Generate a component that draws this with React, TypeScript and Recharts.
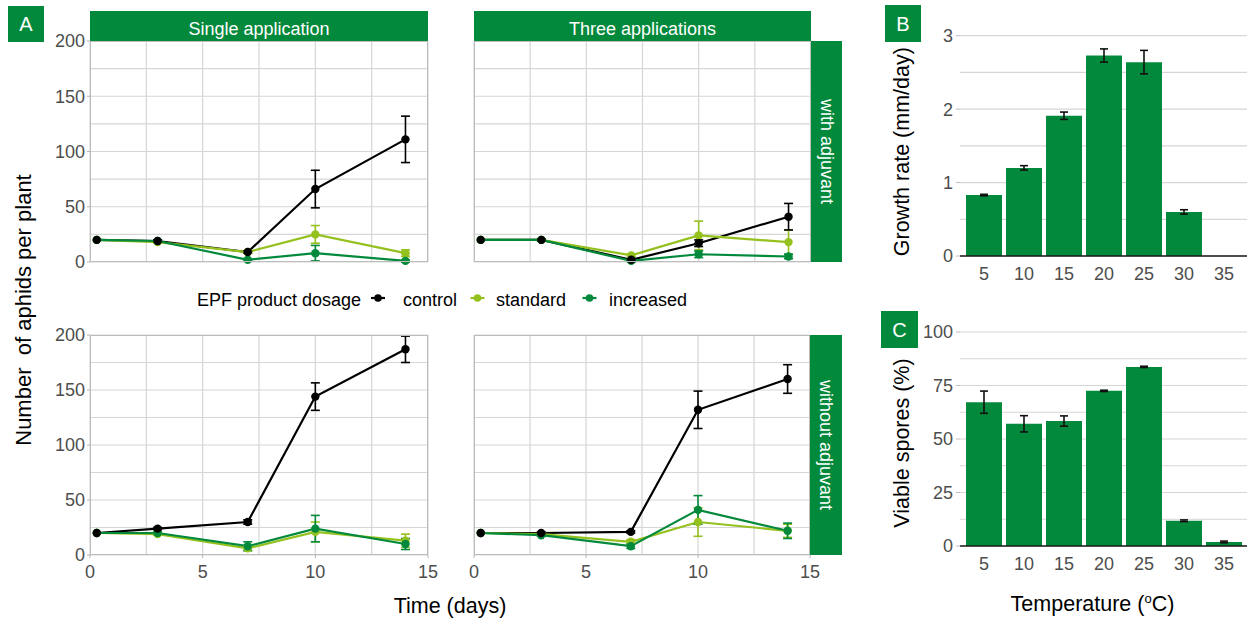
import React from 'react';
import { ComposedChart, BarChart, Bar, Line, XAxis, YAxis, CartesianGrid, ErrorBar } from 'recharts';

const FONT = '"Liberation Sans", Arial, Helvetica, sans-serif';
const GREEN = '#02893b';
const LIGHT = '#95c11f';
const BLACK = '#000000';
const GRID = '#d6d6d6';
const TICK = '#4d4d4d';

// ---- Panel A data ----
const days = [0.3, 3, 7, 10, 14];
const dayTicks = [0, 5, 10, 15];
const dayGrid = [0, 2.5, 5, 7.5, 10, 12.5, 15];
const aphidTicks = [0, 50, 100, 150, 200];
const aphidGrid = [0, 25, 50, 75, 100, 125, 150, 175, 200];

// Single application, with adjuvant
const singleWithControl = [20, 19, 9, 66, 111];
const singleWithControlSe = [0, 1, 1, 17, 21];
const singleWithStandard = [20, 18, 9, 25, 8];
const singleWithStandardSe = [0, 1, 1, 8, 3];
const singleWithIncreased = [20, 19, 2, 8, 1];
const singleWithIncreasedSe = [0, 1, 1, 7, 1];

// Three applications, with adjuvant
const threeWithControl = [20, 20, 2, 17, 41];
const threeWithControlSe = [0, 1, 1, 3, 12];
const threeWithStandard = [20, 20, 6, 24, 18];
const threeWithStandardSe = [0, 1, 1, 13, 11];
const threeWithIncreased = [20, 20, 1, 7, 5];
const threeWithIncreasedSe = [0, 1, 1, 3, 2];

// Single application, without adjuvant
const singleWithoutControl = [20, 24, 30, 144, 187];
const singleWithoutControlSe = [0, 1, 2, 12.5, 12];
const singleWithoutStandard = [20, 19, 6, 21, 13];
const singleWithoutStandardSe = [0, 1, 2, 9, 6];
const singleWithoutIncreased = [20, 20, 8, 24, 10];
const singleWithoutIncreasedSe = [0, 1, 4, 12, 5];

// Three applications, without adjuvant
const threeWithoutControl = [20, 20, 21, 132, 160];
const threeWithoutControlSe = [0, 1, 1, 17, 13];
const threeWithoutStandard = [20, 19, 12, 30, 22];
const threeWithoutStandardSe = [0, 1, 2, 13, 6];
const threeWithoutIncreased = [20, 18, 8, 41, 22];
const threeWithoutIncreasedSe = [0, 1, 2, 13, 7];

// ---- Panels B & C data ----
const temps = ['5', '10', '15', '20', '25', '30', '35'];
const growthRate = [0.83, 1.2, 1.91, 2.73, 2.64, 0.6, 0];
const growthRateSe = [0.01, 0.03, 0.05, 0.09, 0.16, 0.03, 0];
const growthTicks = [0, 1, 2, 3];
const growthGrid = [0, 0.5, 1, 1.5, 2, 2.5, 3];
const viableSpores = [67.2, 57.1, 58.4, 72.5, 83.7, 11.8, 1.9];
const viableSporesSe = [5.2, 3.8, 2.4, 0.3, 0.3, 0.4, 0.4];
const sporeTicks = [0, 25, 50, 75, 100];
const sporeGrid = [0, 12.5, 25, 37.5, 50, 62.5, 75, 87.5, 100];

function buildRows(c: number[], cs: number[], s: number[], ss: number[], i: number[], is: number[]) {
  return days.map((d, k) => ({
    day: d,
    control: c[k], controlSe: cs[k],
    standard: s[k], standardSe: ss[k],
    increased: i[k], increasedSe: is[k],
  }));
}

const rowsSingleWith = buildRows(singleWithControl, singleWithControlSe, singleWithStandard, singleWithStandardSe, singleWithIncreased, singleWithIncreasedSe);
const rowsThreeWith = buildRows(threeWithControl, threeWithControlSe, threeWithStandard, threeWithStandardSe, threeWithIncreased, threeWithIncreasedSe);
const rowsSingleWithout = buildRows(singleWithoutControl, singleWithoutControlSe, singleWithoutStandard, singleWithoutStandardSe, singleWithoutIncreased, singleWithoutIncreasedSe);
const rowsThreeWithout = buildRows(threeWithoutControl, threeWithoutControlSe, threeWithoutStandard, threeWithoutStandardSe, threeWithoutIncreased, threeWithoutIncreasedSe);

const growthRows = temps.map((t, k) => ({ temp: t, value: growthRate[k], se: growthRateSe[k] }));
const sporeRows = temps.map((t, k) => ({ temp: t, value: viableSpores[k], se: viableSporesSe[k] }));

const tickStyle = { fontSize: 18, fill: TICK, fontFamily: FONT };

function Facet({ data, left, top, w, h, showY, showX }: any) {
  const yW = showY ? 60 : 0;
  const xH = showX ? 40 : 0;
  const pad = 10;
  const ml = showY ? 0 : 20;
  const mb = showX ? 0 : 15;
  const dotStyle = (c: string) => ({ r: 4.2, fill: c, stroke: c, strokeWidth: 0 });
  return (
    <div style={{ position: 'absolute', left: left - yW - ml, top: top - pad }}>
      <ComposedChart width={ml + yW + w + pad} height={pad + h + xH + mb} data={data}
        margin={{ top: pad, right: pad, bottom: mb, left: ml }}>
        <CartesianGrid stroke={GRID} strokeWidth={1.2} horizontalValues={aphidGrid} verticalValues={dayGrid} />
        <XAxis type="number" dataKey="day" domain={[0, 15]} ticks={dayTicks} interval={0} hide={!showX} height={xH}
          axisLine={false} tickLine={{ stroke: '#b3b3b3' }} tickSize={3} tickMargin={7} tick={tickStyle} />
        <YAxis type="number" domain={[0, 200]} ticks={aphidTicks} interval={0} hide={!showY} width={yW}
          axisLine={false} tickLine={{ stroke: '#b3b3b3' }} tickSize={3} tickMargin={2} tick={tickStyle} />
        <Line type="linear" dataKey="control" stroke={BLACK} strokeWidth={2.2} dot={false} activeDot={false} isAnimationActive={false} />
        <Line type="linear" dataKey="standard" stroke={LIGHT} strokeWidth={2.2} dot={false} activeDot={false} isAnimationActive={false} />
        <Line type="linear" dataKey="increased" stroke={GREEN} strokeWidth={2.2} dot={false} activeDot={false} isAnimationActive={false} />
        <Line type="linear" dataKey="standard" stroke="none" dot={dotStyle(LIGHT)} activeDot={false} isAnimationActive={false}>
          <ErrorBar dataKey="standardSe" width={4.5} stroke={LIGHT} strokeWidth={1.6} direction="y" />
        </Line>
        <Line type="linear" dataKey="increased" stroke="none" dot={dotStyle(GREEN)} activeDot={false} isAnimationActive={false}>
          <ErrorBar dataKey="increasedSe" width={4.5} stroke={GREEN} strokeWidth={1.6} direction="y" />
        </Line>
        <Line type="linear" dataKey="control" stroke="none" dot={dotStyle(BLACK)} activeDot={false} isAnimationActive={false}>
          <ErrorBar dataKey="controlSe" width={4.5} stroke={BLACK} strokeWidth={1.6} direction="y" />
        </Line>
      </ComposedChart>
    </div>
  );
}

function BarPanel({ data, left, top, h, domain, ticks, grid }: any) {
  const yW = 50;
  const xH = 40;
  const w = 288;
  const pad = 10;
  return (
    <div style={{ position: 'absolute', left: left - yW, top: top - pad }}>
      <BarChart width={yW + w} height={pad + h + xH} data={data} margin={{ top: pad, right: 0, bottom: 0, left: 0 }}
        barCategoryGap="5%">
        <CartesianGrid stroke={GRID} strokeWidth={1.2} vertical={false} horizontalValues={grid} />
        <XAxis dataKey="temp" type="category" padding={{ left: 4, right: 4 }} height={xH} interval={0}
          axisLine={{ stroke: '#1a1a1a', strokeWidth: 1.3 }} tickLine={false} tickSize={0} tickMargin={11} tick={tickStyle} />
        <YAxis type="number" domain={domain} ticks={ticks} interval={0} width={yW} axisLine={false}
          tickLine={{ stroke: '#bdbdbd' }} tickSize={4} tickMargin={3} tick={tickStyle} />
        <Bar dataKey="value" fill={GREEN} isAnimationActive={false}>
          <ErrorBar dataKey="se" width={4} stroke="#111111" strokeWidth={1.6} direction="y" />
        </Bar>
      </BarChart>
    </div>
  );
}

function Overlay() {
  const legendItems = [
    { label: 'control', color: BLACK, cx: 378, tx: 403 },
    { label: 'standard', color: LIGHT, cx: 477.5, tx: 496 },
    { label: 'increased', color: GREEN, cx: 589.5, tx: 609 },
  ];
  const panels = [
    { x: 90, y: 41, w: 338, h: 221 },
    { x: 474, y: 41, w: 337, h: 221 },
    { x: 90, y: 335, w: 338, h: 220 },
    { x: 474, y: 335, w: 336, h: 220 },
  ];
  return (
    <svg width={1247} height={620} style={{ position: 'absolute', left: 0, top: 0, pointerEvents: 'none', fontFamily: FONT }}>
      {panels.map((p, i) => (
        <rect key={i} x={p.x + 0.5} y={p.y + 0.5} width={p.w - 1} height={p.h - 1} fill="none" stroke="#bdbdbd" strokeWidth={1} />
      ))}
      {/* strips */}
      <rect x={90} y={11} width={338} height={30} fill={GREEN} />
      <text x={259} y={35} textAnchor="middle" fontSize={18} fill="#ffffff">Single application</text>
      <rect x={474} y={11} width={337} height={30} fill={GREEN} />
      <text x={642.5} y={35} textAnchor="middle" fontSize={18} fill="#ffffff">Three applications</text>
      <rect x={811} y={41} width={31} height={221} fill={GREEN} />
      <text transform="translate(826.5,151.5) rotate(90)" textAnchor="middle" dominantBaseline="central" fontSize={18} fill="#ffffff">with adjuvant</text>
      <rect x={810} y={335} width={32} height={220} fill={GREEN} />
      <text transform="translate(826,445) rotate(90)" textAnchor="middle" dominantBaseline="central" fontSize={18} fill="#ffffff">without adjuvant</text>

      {/* panel letters */}
      <rect x={8} y={6} width={36} height={36} fill={GREEN} />
      <text x={26} y={31} textAnchor="middle" fontSize={20} fill="#ffffff">A</text>
      <rect x={885} y={5} width={36} height={37} fill={GREEN} />
      <text x={903} y={31} textAnchor="middle" fontSize={20} fill="#ffffff">B</text>
      <rect x={881} y={311} width={37} height={37} fill={GREEN} />
      <text x={899.5} y={337} textAnchor="middle" fontSize={20} fill="#ffffff">C</text>

      {/* legend */}
      <text x={197} y={306} fontSize={18} fill="#000000">EPF product dosage</text>
      {legendItems.map((it) => (
        <g key={it.label}>
          <line x1={it.cx - 7} x2={it.cx + 7} y1={298} y2={298} stroke={it.color} strokeWidth={2.2} />
          <circle cx={it.cx} cy={298} r={3.8} fill={it.color} />
          <text x={it.tx} y={306} fontSize={18} fill="#000000">{it.label}</text>
        </g>
      ))}

      {/* axis titles */}
      <text transform="translate(31,310) rotate(-90)" textAnchor="middle" fontSize={22} fill="#000000" style={{ whiteSpace: 'pre' }}>Number  of aphids per plant</text>
      <text x={450} y={612.5} textAnchor="middle" fontSize={21.5} fill="#000000">Time (days)</text>
      <text transform="translate(909,151.7) rotate(-90)" textAnchor="middle" fontSize={21.5} fill="#000000">Growth rate (mm/day)</text>
      <text transform="translate(909,443) rotate(-90)" textAnchor="middle" fontSize={21.5} fill="#000000">Viable spores (%)</text>
      <text x={1092.5} y={611} textAnchor="middle" fontSize={21.5} fill="#000000">
        Temperature (<tspan dy={-8} fontSize={13}>o</tspan><tspan dy={8}>C)</tspan>
      </text>
    </svg>
  );
}

export default function App() {
  return (
    <div style={{ position: 'absolute', left: 0, top: 0, width: 1247, height: 620, overflow: 'hidden', background: '#ffffff', fontFamily: FONT }}>
      <Facet data={rowsSingleWith} left={90} top={41} w={338} h={221} showY showX={false} />
      <Facet data={rowsThreeWith} left={474} top={41} w={337} h={221} showY={false} showX={false} />
      <Facet data={rowsSingleWithout} left={90} top={335} w={338} h={220} showY showX />
      <Facet data={rowsThreeWithout} left={474} top={335} w={336} h={220} showY={false} showX />
      <BarPanel data={growthRows} left={960} top={21} h={235} domain={[0, 3.2]} ticks={growthTicks} grid={growthGrid} />
      <BarPanel data={sporeRows} left={960} top={332} h={214} domain={[0, 100]} ticks={sporeTicks} grid={sporeGrid} />
      <Overlay />
    </div>
  );
}
